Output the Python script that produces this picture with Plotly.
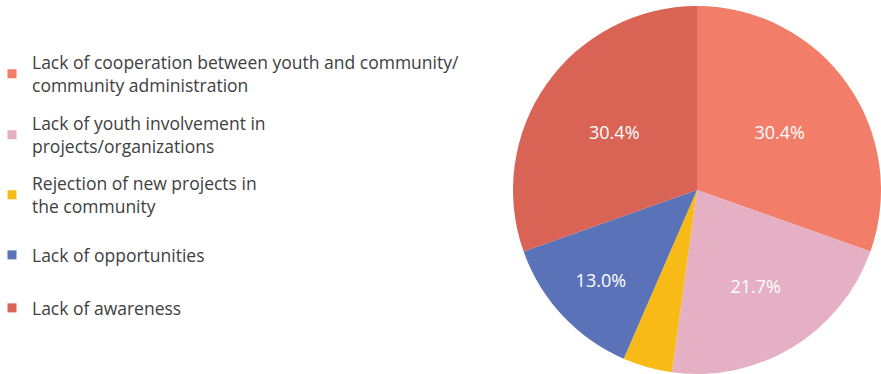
import plotly.graph_objects as go

labels = [
    "Lack of cooperation between youth and community/<br>community administration",
    "Lack of youth involvement in<br>projects/organizations",
    "Rejection of new projects in<br>the community",
    "Lack of opportunities",
    "Lack of awareness",
]
values = [7, 5, 1, 3, 7]
colors = ["#F27D69", "#E5B0C4", "#F7BA17", "#5A72B7", "#D96354"]

total = sum(values)
texttemplate = ["%{percent:.1%}" if v / total >= 0.05 else "" for v in values]

W, H = 881, 374
MT = 6

fig = go.Figure()
fig.add_trace(go.Pie(
    labels=labels,
    values=values,
    marker=dict(colors=colors, line=dict(width=0)),
    sort=False,
    direction="clockwise",
    rotation=0,
    texttemplate=texttemplate,
    textposition="inside",
    insidetextorientation="horizontal",
    insidetextfont=dict(family="Open Sans", size=18, color="#FFFFFF"),
    domain=dict(x=[513 / W, 1.0], y=[0, 1]),
    showlegend=False,
    hoverinfo="label+percent",
))

# legend entries (one legend per entry to mimic spacing)
legend_centers_px = [74, 135, 195, 255, 308]
LEG_F = 17.5
for i, (lab, col) in enumerate(zip(labels, colors)):
    lname = "legend" if i == 0 else f"legend{i+1}"
    fig.add_trace(go.Scatter(
        x=[None], y=[None], mode="markers",
        marker=dict(symbol="square", size=9, color=col),
        name=lab, legend=lname, showlegend=True, hoverinfo="skip",
    ))
    ypaper = 1 - (legend_centers_px[i] - MT) / (H - MT)
    fig.layout[lname] = dict(
        x=-8 / W, y=ypaper, xanchor="left", yanchor="middle",
        valign="middle", bgcolor="rgba(0,0,0,0)", borderwidth=0,
        font=dict(family="Open Sans", size=LEG_F, color="#404040"),
        itemclick=False, itemdoubleclick=False,
    )

fig.update_layout(
    width=W, height=H,
    margin=dict(l=0, r=0, t=MT, b=0, autoexpand=False),
    paper_bgcolor="white", plot_bgcolor="white",
    xaxis=dict(visible=False), yaxis=dict(visible=False),
)

fig.write_html("out.html")
